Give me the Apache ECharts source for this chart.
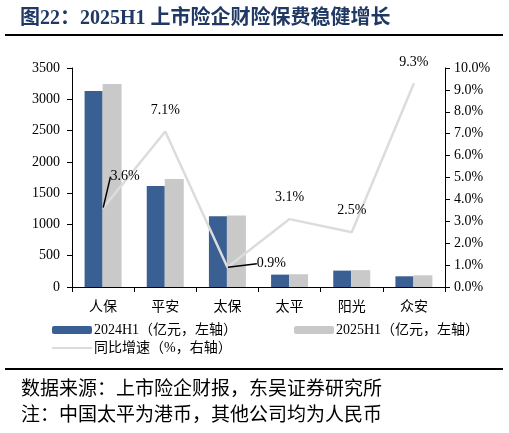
<!DOCTYPE html>
<html>
<head>
<meta charset="utf-8">
<script src="https://cdn.jsdelivr.net/npm/echarts@6/dist/echarts.min.js"></script>
<style>
  html, body { margin: 0; padding: 0; background: #fff; }
  #main { width: 509px; height: 433px; }
</style>
</head>
<body>
<div id="main"></div>
<script>
// 数据
var companies = ['人保', '平安', '太保', '太平', '阳光', '众安'];
var premium2024 = [3133, 1614, 1132, 198, 262, 171];
var premium2025 = [3245, 1728, 1142, 204, 269, 187];
var growth = [3.6, 7.1, 0.9, 3.1, 2.5, 9.3];
var leftTicks = { min: 0, max: 3500, interval: 500 };
var rightTicks = { min: 0, max: 10, interval: 1 };

var FONT = "'Liberation Serif', 'Times New Roman', 'Noto Sans CJK SC', serif";
var name24 = '2024H1（亿元，左轴）';
var name25 = '2025H1（亿元，左轴）';
var nameGrowth = '同比增速（%，右轴）';

// 人保、太保两个标签带引线
var leaderIdx = [0, 2];
var growthData = growth.map(function (v, i) {
  return { value: v, labelLine: { show: leaderIdx.indexOf(i) >= 0 } };
});

var myChart = echarts.init(document.getElementById('main'));

var option = {
  backgroundColor: '#fff',
  animation: false,
  textStyle: { fontFamily: FONT, color: '#000' },
  title: [
    {
      text: '图22：2025H1 上市险企财险保费稳健增长',
      left: 15, top: 4,
      textStyle: { fontFamily: FONT, fontSize: 20, fontWeight: 'bold', color: '#1f3864' }
    },
    {
      text: '数据来源：上市险企财报，东吴证券研究所',
      left: 16, top: 376,
      textStyle: { fontFamily: FONT, fontSize: 19, fontWeight: 'normal', color: '#000' }
    },
    {
      text: '注：中国太平为港币，其他公司均为人民币',
      left: 16, top: 402,
      textStyle: { fontFamily: FONT, fontSize: 19, fontWeight: 'normal', color: '#000' }
    }
  ],
  graphic: [
    { type: 'line', shape: { x1: 5, y1: 35, x2: 503, y2: 35 }, style: { stroke: '#000', lineWidth: 2 } },
    { type: 'line', shape: { x1: 5, y1: 369, x2: 503, y2: 369 }, style: { stroke: '#000', lineWidth: 2 } }
  ],
  legend: [
    {
      data: [name24], left: 47, top: 318, itemWidth: 40, itemHeight: 8, itemGap: 2,
      textStyle: { fontFamily: FONT, fontSize: 14, color: '#000', padding: [0, 0, 0, -3] }
    },
    {
      data: [name25], left: 289, top: 318, itemWidth: 40, itemHeight: 8,
      textStyle: { fontFamily: FONT, fontSize: 14, color: '#000', padding: [0, 0, 0, -3] }
    },
    {
      data: [{ name: nameGrowth, icon: 'rect', itemStyle: { color: '#dcdcdc' } }],
      left: 47, top: 336, itemWidth: 40, itemHeight: 2,
      textStyle: { fontFamily: FONT, fontSize: 14, color: '#000', padding: [0, 0, 0, -3] }
    }
  ],
  grid: { left: 72, right: 64, top: 68, bottom: 146, containLabel: false },
  xAxis: {
    type: 'category',
    data: companies,
    axisLine: { lineStyle: { color: '#000', width: 1 } },
    axisTick: { show: true, alignWithLabel: false, length: 5, lineStyle: { color: '#000' } },
    axisLabel: { fontFamily: FONT, fontSize: 14, color: '#000', margin: 13 }
  },
  yAxis: [
    {
      type: 'value',
      min: leftTicks.min, max: leftTicks.max, interval: leftTicks.interval,
      axisLine: { show: true, lineStyle: { color: '#000' } },
      axisTick: { show: true, length: 5, lineStyle: { color: '#000' } },
      splitLine: { show: false },
      axisLabel: {
        fontFamily: FONT, fontSize: 14, color: '#000', margin: 12,
        formatter: function (v) { return String(v); }
      }
    },
    {
      type: 'value',
      min: rightTicks.min, max: rightTicks.max, interval: rightTicks.interval,
      axisLine: { show: true, lineStyle: { color: '#000' } },
      axisTick: { show: true, length: 5, lineStyle: { color: '#000' } },
      splitLine: { show: false },
      axisLabel: {
        fontFamily: FONT, fontSize: 14, color: '#000', margin: 9,
        formatter: function (v) { return v.toFixed(1) + '%'; }
      }
    }
  ],
  series: [
    {
      name: name24,
      type: 'bar',
      data: premium2024,
      barWidth: 18,
      barGap: '0%',
      itemStyle: { color: '#3a5f92' }
    },
    {
      name: name25,
      type: 'bar',
      data: premium2025,
      barWidth: 19,
      barGap: '0%',
      itemStyle: { color: '#c9c9c9' }
    },
    {
      name: nameGrowth,
      type: 'line',
      yAxisIndex: 1,
      data: growthData,
      symbol: 'circle',
      symbolSize: 1,
      showSymbol: true,
      z: 5,
      lineStyle: { color: '#dcdcdc', width: 2.5 },
      itemStyle: { color: '#dcdcdc' },
      label: {
        show: true,
        position: 'top',
        distance: 14,
        fontFamily: FONT,
        fontSize: 14,
        color: '#000',
        formatter: function (p) { return p.value.toFixed(1) + '%'; }
      },
      labelLine: { show: false, lineStyle: { color: '#000', width: 1.5 } },
      labelLayout: function (p) {
        if (p.dataIndex === 0) return { dx: 22, dy: -10 };
        if (p.dataIndex === 2) return { dx: 44, dy: 18 };
        return {};
      }
    }
  ]
};

myChart.setOption(option);
</script>
</body>
</html>
